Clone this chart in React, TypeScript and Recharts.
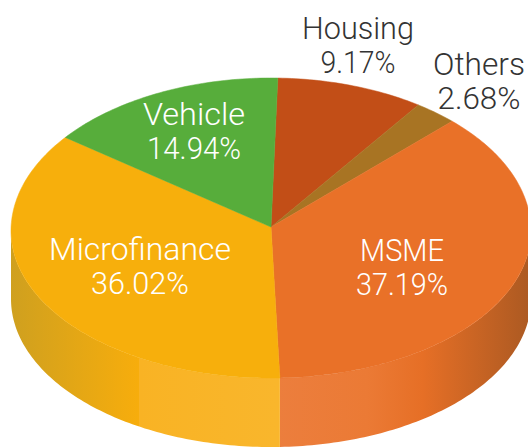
import { Pie, PieChart } from 'recharts'

const categories = ['Housing', 'Others', 'MSME', 'Microfinance', 'Vehicle']
const shares = [9.17, 2.68, 37.19, 36.02, 14.94]
const colors = ['#c24e17', '#a87423', '#e97128', '#f7af0c', '#57ad3b']

const chartData = categories.map((name, i) => ({ name, value: shares[i], fill: colors[i] }))

const WIDTH = 528
const HEIGHT = 447
const CX = 271
const CY = 227
const RADIUS = 260
const START_ANGLE = 88.5

// the rim is not a true ellipse, back half is taller than the front half
const RIM_Y = 231
const RIM_BACK = 153
const RIM_FRONT = 147
const BASE_Y = 299
const BASE_FRONT = 148

// where each label sits: centre x, first baseline, widths of the two lines
const labelPos: Record<string, { x: number; y: number; color: string; w1: number; w2: number }> = {
  Housing: { x: 358, y: 39, color: '#333333', w1: 112, w2: 75 },
  Others: { x: 479, y: 75, color: '#333333', w1: 92, w2: 83 },
  MSME: { x: 402, y: 261, color: '#ffffff', w1: 84, w2: 92 },
  Microfinance: { x: 140, y: 260, color: '#ffffff', w1: 182, w2: 98 },
  Vehicle: { x: 194, y: 125, color: '#ffffff', w1: 102, w2: 94 },
}

const rad = (deg: number) => (deg * Math.PI) / 180

function rimPoint(cx: number, r: number, a: number) {
  const s = Math.sin(rad(a))
  return [cx + r * Math.cos(rad(a)), RIM_Y - (s > 0 ? RIM_BACK : RIM_FRONT) * s]
}

function basePoint(cx: number, r: number, a: number) {
  return [cx + r * Math.cos(rad(a)), BASE_Y - BASE_FRONT * Math.sin(rad(a))]
}

// one point per degree going clockwise from a to b
function sweep(a: number, b: number, fn: (deg: number) => number[]) {
  const pts: number[][] = []
  for (let d = a; d > b; d -= 1) pts.push(fn(d))
  pts.push(fn(b))
  return pts
}

const toPath = (pts: number[][]) => pts.map((p) => `${p[0].toFixed(2)},${p[1].toFixed(2)}`).join(' L')

function TopSlice(props: any) {
  const { cx, cy, outerRadius: r, startAngle: a, endAngle: b, fill } = props
  const rim = sweep(a, b, (d) => rimPoint(cx, r, d))
  return <path d={`M${cx},${cy} L${toPath(rim)} Z`} fill={fill} stroke={fill} strokeWidth={0.5} />
}

// side wall, only the part that faces the viewer
function WallSlice(props: any) {
  const { cx, outerRadius: r, startAngle, endAngle, name } = props
  const a = Math.min(startAngle, 0)
  const b = Math.max(endAngle, -180)
  if (a <= b) return null
  const top = sweep(a, b, (d) => rimPoint(cx, r, d))
  const bottom = sweep(a, b, (d) => basePoint(cx, r, d)).reverse()
  return (
    <path
      d={`M${toPath(top)} L${toPath(bottom)} Z`}
      fill={name === 'MSME' ? 'url(#wall-msme)' : 'url(#wall-micro)'}
    />
  )
}

function renderLabel(props: any) {
  const { name, value } = props
  const pos = labelPos[name]
  const common = {
    textAnchor: 'middle' as const,
    fill: pos.color,
    fontFamily: 'Roboto, sans-serif',
    fontWeight: 300,
    fontSize: 31,
    lengthAdjust: 'spacingAndGlyphs' as const,
  }
  return (
    <g>
      <text x={pos.x} y={pos.y} textLength={pos.w1} {...common}>
        {name}
      </text>
      <text x={pos.x} y={pos.y + 34} textLength={pos.w2} {...common}>
        {`${value.toFixed(2)}%`}
      </text>
    </g>
  )
}

export default function App() {
  return (
    <div style={{ position: 'absolute', left: 0, top: 0, width: WIDTH, height: HEIGHT }}>
      <PieChart width={WIDTH} height={HEIGHT} margin={{ top: 0, right: 0, bottom: 0, left: 0 }}>
        <defs>
          <linearGradient id="wall-micro" gradientUnits="userSpaceOnUse" x1={11} y1={0} x2={277} y2={0}>
            <stop offset="0%" stopColor="#cfa01f" />
            <stop offset="48%" stopColor="#f7ad0c" />
            <stop offset="48%" stopColor="#f9b324" />
            <stop offset="100%" stopColor="#f9b62c" />
          </linearGradient>
          <linearGradient id="wall-msme" gradientUnits="userSpaceOnUse" x1={277} y1={0} x2={528} y2={0}>
            <stop offset="0%" stopColor="#ec7e3d" />
            <stop offset="36%" stopColor="#eb7a35" />
            <stop offset="58%" stopColor="#e66f26" />
            <stop offset="100%" stopColor="#ad5a22" />
          </linearGradient>
        </defs>
        <Pie
          data={chartData}
          dataKey="value"
          nameKey="name"
          cx={CX}
          cy={CY}
          outerRadius={RADIUS}
          startAngle={START_ANGLE}
          endAngle={START_ANGLE - 360}
          shape={WallSlice}
          inactiveShape={WallSlice}
          stroke="none"
          isAnimationActive={false}
        />
        <Pie
          data={chartData}
          dataKey="value"
          nameKey="name"
          cx={CX}
          cy={CY}
          outerRadius={RADIUS}
          startAngle={START_ANGLE}
          endAngle={START_ANGLE - 360}
          shape={TopSlice}
          inactiveShape={TopSlice}
          stroke="none"
          label={renderLabel}
          labelLine={false}
          isAnimationActive={false}
        />
      </PieChart>
    </div>
  )
}
